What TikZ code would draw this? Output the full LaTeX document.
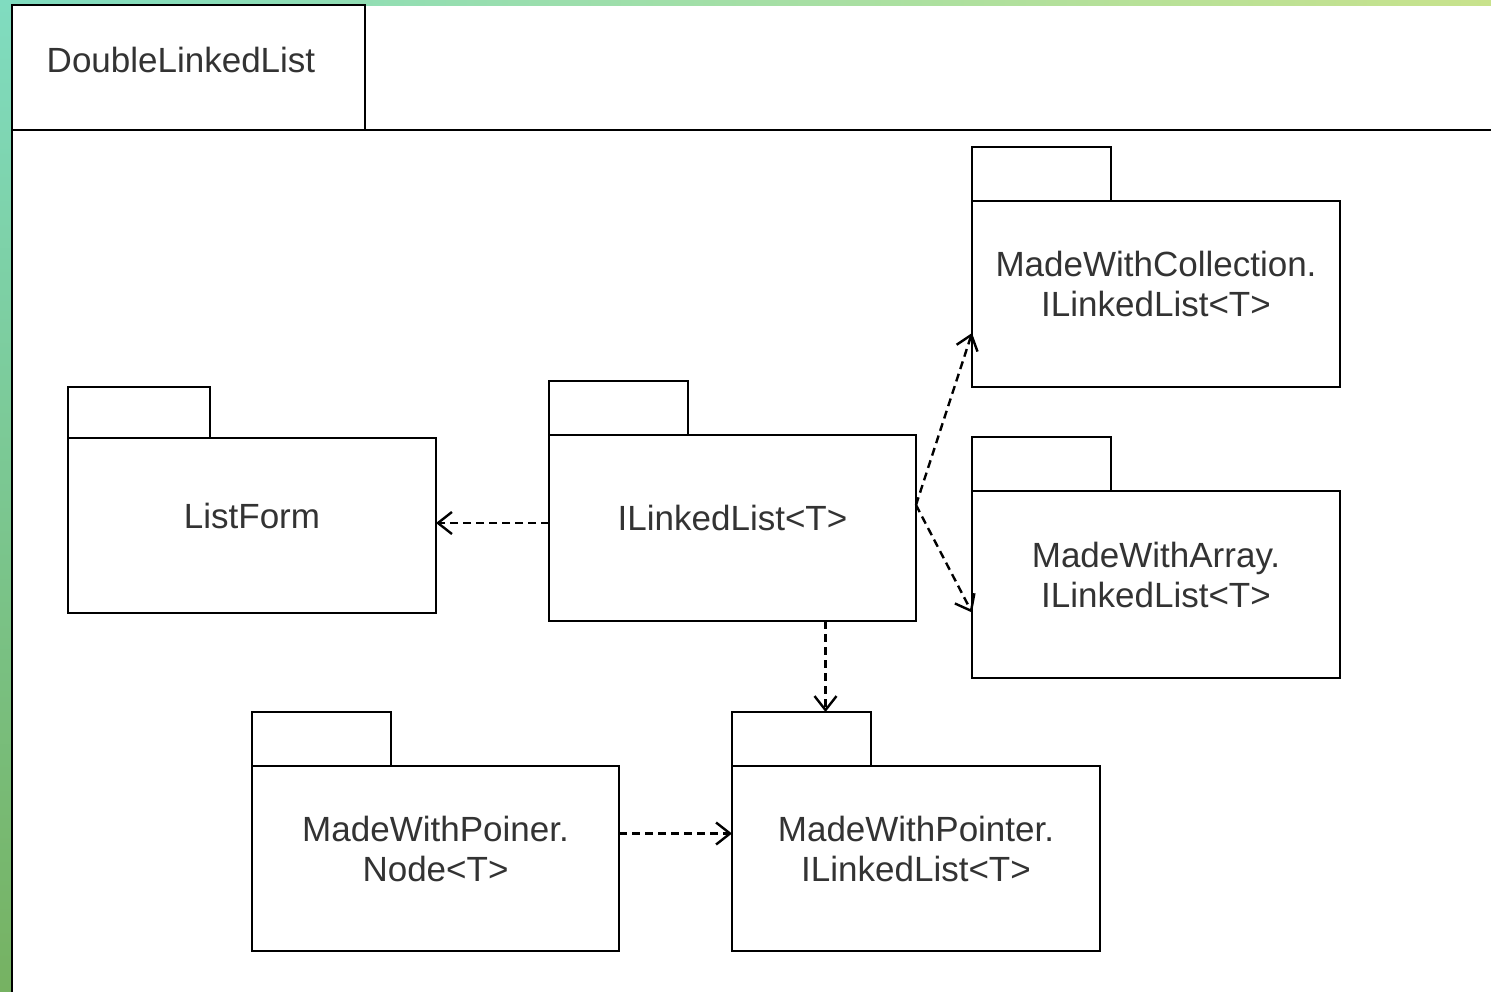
\documentclass[tikz,border=0pt]{standalone}
\usepackage{fontspec}
\setmainfont{Liberation Sans}
\definecolor{textgray}{RGB}{51, 51, 51}
\definecolor{frameteal}{RGB}{128, 220, 192}
\definecolor{framelime}{RGB}{200, 226, 140}
\definecolor{framegreen}{RGB}{118, 178, 98}
\usepackage{tikz}
\usetikzlibrary{arrows.meta, positioning, calc}

\begin{document}
\begin{tikzpicture}[
  x=1pt, y=-1pt,
  pkg/.style={draw, line width=2.8pt, outer sep=0pt, minimum width=368pt, minimum height=186pt, align=center, text=textgray, text depth=20pt, font=\fontsize{35}{40}\selectfont},
  pkgtab/.style={draw, line width=2.8pt, outer sep=0pt, inner sep=0pt, minimum width=139pt, minimum height=54pt},
  dep/.style={draw, line width=2.4pt, dash pattern=on 8pt off 5pt, -{Straight Barb[length=14pt, width=22pt, line width=2.4pt]}}
]
  \useasboundingbox (0,0) rectangle (1491,991);
  \fill[white] (0,0) rectangle (1491,991);
  \shade[left color=frameteal, right color=framelime] (0,0) rectangle (1491,5);
  \shade[top color=frameteal, bottom color=framegreen] (0,0) rectangle (11,991);

  % outer package
  \node[draw, line width=2.8pt, outer sep=0pt, minimum width=353pt, minimum height=125pt] (dll) at (188.5, 67.5) {};
  \node[text=textgray, font=\fontsize{35}{40}\selectfont] (dlltext) at (181, 60) {DoubleLinkedList};
  \draw[line width=2.8pt] (dll.south west) -- (dll.south west |- 0,995);
  \draw[line width=2.8pt] (dll.south east) -- (1495, 130);

  % inner packages
  \node[pkg, minimum height=175pt] (lf) at (252, 525.5) {ListForm};
  \node[pkgtab, minimum width=142pt, minimum height=51pt, above right=0pt of lf.north west] (lftab) {};
  \node[pkg, minimum width=367pt] (ill) at (732.5, 528) {ILinkedList<T>};
  \node[pkgtab, above right=0pt of ill.north west] (illtab) {};
  \node[pkg] (mwc) at (1156, 294) {MadeWithCollection.\\ILinkedList<T>};
  \node[pkgtab, above right=0pt of mwc.north west] (mwctab) {};
  \node[pkg, minimum height=187pt] (mwa) at (1156, 584.5) {MadeWithArray.\\ILinkedList<T>};
  \node[pkgtab, above right=0pt of mwa.north west] (mwatab) {};
  \node[pkg, minimum width=367pt, minimum height=185pt] (mpn) at (435.5, 858.5) {MadeWithPoiner.\\Node<T>};
  \node[pkgtab, above right=0pt of mpn.north west] (mpntab) {};
  \node[pkg, minimum height=185pt] (mpl) at (916, 858.5) {MadeWithPointer.\\ILinkedList<T>};
  \node[pkgtab, above right=0pt of mpl.north west] (mpltab) {};

  % dependencies
  \coordinate (split) at ([yshift=23pt]ill.east);
  \draw[dep] ([yshift=5pt]ill.west) -- ([yshift=5pt]ill.west -| lf.east);
  \draw[dep] (split) -- ([yshift=-39pt]mwc.west);
  \draw[dep] (split) -- ([yshift=-28pt]mwa.west);
  \draw[dep] ([xshift=93pt]ill.south) -- ([xshift=93pt]ill.south |- mpltab.north);
  \draw[dep] ([yshift=25pt]mpn.east) -- ([yshift=25pt]mpn.east -| mpl.west);
\end{tikzpicture}
\end{document}
